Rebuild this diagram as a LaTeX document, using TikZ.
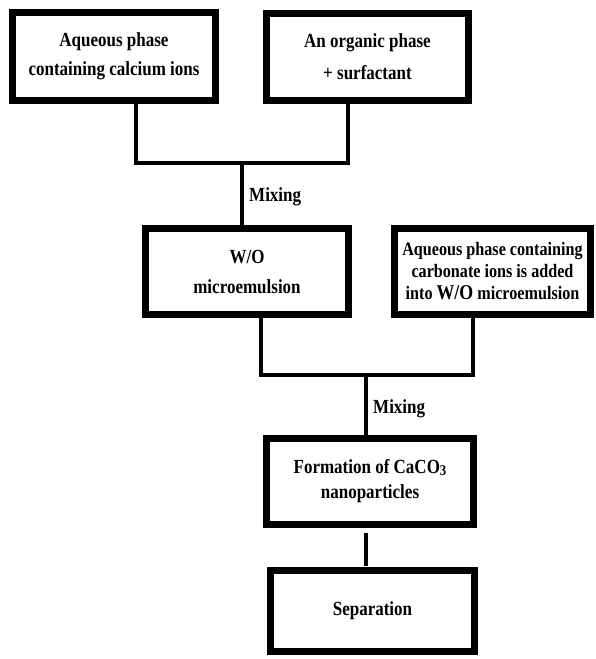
\documentclass[tikz,border=0pt]{standalone}
\usepackage{fontspec}
\setmainfont{Liberation Serif}[FakeStretch=0.85]
\begin{document}
\begin{tikzpicture}[x=1pt,y=-1pt,
  box/.style={draw, line width=7pt, rectangle, inner sep=0pt, outer sep=0pt, align=center},
  conn/.style={line width=4pt},
  lab/.style={font=\bfseries\fontsize{20}{24}\selectfont, inner sep=0pt, anchor=west}]
\useasboundingbox[fill=white] (0,0) rectangle (595,659);
\node[box, minimum width=203pt, minimum height=88pt, font=\bfseries\fontsize{20}{29}\selectfont] (b1) at (114,56.5) {Aqueous phase\\containing calcium ions};
\node[box, minimum width=202pt, minimum height=87pt, font=\bfseries\fontsize{20}{32}\selectfont] (b2) at (367.5,57) {An organic phase\\+ surfactant};
\node[box, minimum width=203pt, minimum height=86pt, font=\bfseries\fontsize{20}{30}\selectfont] (b3) at (247,271.5) {W/O\\microemulsion};
\node[box, minimum width=196pt, minimum height=86pt, font=\bfseries\fontsize{19}{22}\selectfont] (b4) at (492.5,271.5) {Aqueous phase containing\\carbonate ions is added\\into {\fontsize{21}{22}\selectfont W/O} microemulsion};
\node[box, minimum width=207pt, minimum height=86pt, font=\bfseries\fontsize{20}{25}\selectfont] (b5) at (370,481.5) {Formation of CaCO\raisebox{-2pt}{\fontsize{15}{15}\selectfont 3}\\nanoparticles};
\node[box, minimum width=204pt, minimum height=81pt, font=\bfseries\fontsize{20}{25}\selectfont] (b6) at (372.5,611) {Separation};
\coordinate (j1) at (242,163);
\coordinate (j2) at (366,375);
\draw[conn] ([xshift=22pt]b1.south) |- (j1) -| ([xshift=-19.5pt]b2.south);
\draw[conn] (j1) -- (b3.north -| j1);
\draw[conn] ([xshift=14pt]b3.south) |- (j2) -| ([xshift=-19.5pt]b4.south);
\draw[conn] (j2) -- (b5.north -| j2);
\draw[conn, shorten <=8pt, shorten >=5pt] (b5.south -| j2) -- (b6.north -| j2);
\node[lab] (m1) at (249,197) {Mixing};
\node[lab] (m2) at (373,409) {Mixing};
\end{tikzpicture}
\end{document}
